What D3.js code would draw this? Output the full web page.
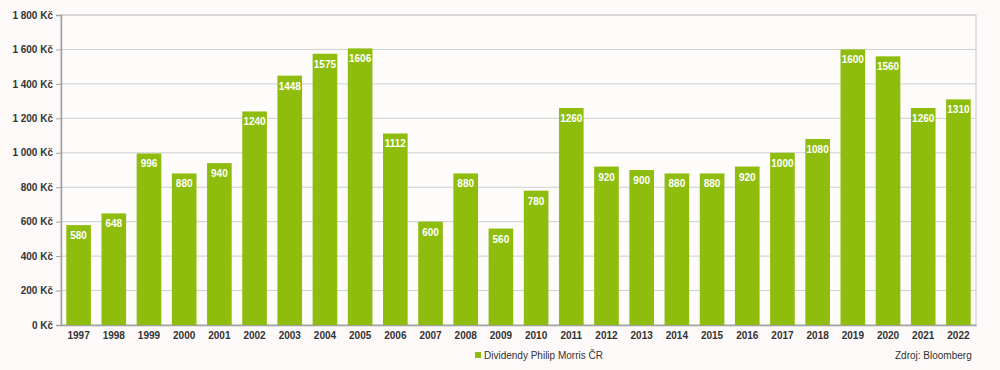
<!DOCTYPE html>
<html><head><meta charset="utf-8">
<script src="https://cdn.jsdelivr.net/npm/d3@7"></script>
<style>body{margin:0;background:#fdf9f9;} svg{display:block;}</style>
</head><body>
<svg id="c" width="1000" height="370"></svg>
<script>
const years = ["1997","1998","1999","2000","2001","2002","2003","2004","2005","2006","2007","2008","2009","2010","2011","2012","2013","2014","2015","2016","2017","2018","2019","2020","2021","2022"];
const dividends = [580,648,996,880,940,1240,1448,1575,1606,1112,600,880,560,780,1260,920,900,880,880,920,1000,1080,1600,1560,1260,1310];
const yTicks = [0,200,400,600,800,1000,1200,1400,1600,1800];
const seriesName = "Dividendy Philip Morris ČR";
const sourceText = "Zdroj: Bloomberg";

const svg = d3.select("#c");
const m = {l:61, r:976, t:15, b:325};
const x = d3.scaleBand().domain(years).range([m.l, m.r]).paddingInner(0.3).paddingOuter(0.15);
const y = d3.scaleLinear().domain([0,1800]).range([m.b, m.t]);
const fmt = v => d3.format(",")(v).replace(/,/g, " ") + " Kč";
const font = "Arial, 'Liberation Sans', sans-serif";

svg.append("rect").attr("x",0).attr("y",0).attr("width",1000).attr("height",370).attr("fill","#fdf9f9");
svg.append("rect").attr("x",m.l).attr("y",m.t).attr("width",m.r-m.l).attr("height",m.b-m.t).attr("fill","#fefbfb").attr("stroke","#c8c8c8");

// gridlines
svg.append("g").selectAll("line").data(yTicks.filter(d=>d>0)).join("line")
  .attr("x1",m.l).attr("x2",m.r).attr("y1",d=>y(d)).attr("y2",d=>y(d))
  .attr("stroke","#cfcfcf").attr("stroke-width",1);

// y axis
const ya = svg.append("g").attr("transform",`translate(${m.l},0)`)
  .call(d3.axisLeft(y).tickValues(yTicks).tickFormat(fmt).tickSize(5).tickPadding(3));
ya.select(".domain").attr("stroke","#a0a0a0").attr("stroke-width",1.5);
ya.selectAll(".tick line").attr("stroke","#a0a0a0");
ya.selectAll("text").attr("font-family",font).attr("font-size",10).attr("font-weight","bold").attr("fill","#333");

// x axis
const xa = svg.append("g").attr("transform",`translate(0,${m.b})`)
  .call(d3.axisBottom(x).tickSize(0).tickPadding(7));
xa.select(".domain").attr("stroke","#a0a0a0").attr("stroke-width",1.5);
xa.selectAll("text").attr("font-family",font).attr("font-size",10).attr("font-weight","bold").attr("fill","#333");

// bars
svg.append("g").selectAll("rect").data(dividends).join("rect")
  .attr("x",(d,i)=>x(years[i])).attr("width",x.bandwidth())
  .attr("y",d=>y(d)).attr("height",d=>y(0)-y(d)).attr("fill","#8ebd0e");

// value labels
svg.append("g").selectAll("text").data(dividends).join("text")
  .attr("x",(d,i)=>x(years[i])+x.bandwidth()/2).attr("y",d=>y(d)+14)
  .attr("text-anchor","middle").attr("font-family",font).attr("font-size",10).attr("font-weight","bold")
  .attr("fill","#ffffff").text(d=>d);

// legend
svg.append("rect").attr("x",475).attr("y",352).attr("width",6).attr("height",6).attr("fill","#8ebd0e");
svg.append("text").attr("x",484).attr("y",358.5).attr("font-family",font).attr("font-size",10).attr("fill","#333").text(seriesName);
svg.append("text").attr("x",895).attr("y",358.5).attr("font-family",font).attr("font-size",10).attr("fill","#333").text(sourceText);
</script>
</body></html>
